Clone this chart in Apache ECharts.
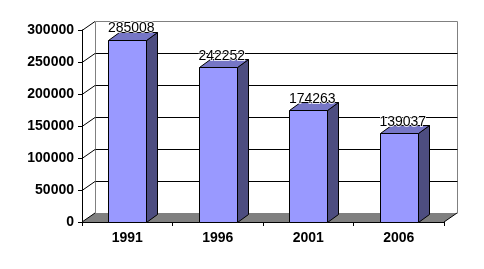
<!DOCTYPE html>
<html><head><meta charset="utf-8">
<script src="https://cdn.jsdelivr.net/npm/echarts@6/dist/echarts.min.js"></script>
<style>html,body{margin:0;padding:0;background:#fff}#c{width:484px;height:269px}</style>
</head><body><div id="c"></div>
<script>
var categories = ['1991', '1996', '2001', '2006'];
var values = [285008, 242252, 174263, 139037];
var yTicks = [0, 50000, 100000, 150000, 200000, 250000, 300000];

var WALL_DX = 13, WALL_DY = -9;
var BAR_DX = 11, BAR_DY = -8;
var FONT = '"Liberation Sans", Arial, sans-serif';

function r(v) { return Math.round(v) + 0.5; }

var chart = echarts.init(document.getElementById('c'), null, {renderer: 'canvas'});
chart.setOption({
  animation: false,
  backgroundColor: '#ffffff',
  grid: {left: 82, right: 40, top: 30, bottom: 47},
  xAxis: {
    type: 'category', data: categories,
    axisLine: {lineStyle: {color: '#000', width: 1}},
    axisTick: {show: true, length: 4, lineStyle: {color: '#000'}},
    axisLabel: {color: '#000', fontFamily: FONT, fontWeight: 'bold', fontSize: 14, margin: 9},
    splitLine: {show: false}
  },
  yAxis: {
    type: 'value', min: 0, max: 300000, interval: 50000,
    axisLine: {show: true, lineStyle: {color: '#000', width: 1}},
    axisTick: {show: true, length: 4, lineStyle: {color: '#000'}},
    axisLabel: {color: '#000', fontFamily: FONT, fontWeight: 'bold', fontSize: 14, margin: 8,
      formatter: function (v) { return String(v); }},
    splitLine: {show: false}
  },
  series: [
    {
      type: 'custom', z: 1, silent: true,
      data: yTicks.map(function (v) { return [0, v]; }),
      renderItem: function (params, api) {
        var cs = params.coordSys;
        var x0 = cs.x, x1 = cs.x + cs.width;
        var y = api.coord([0, api.value(1)])[1];
        var yTop = api.coord([0, yTicks[yTicks.length - 1]])[1];
        var yBot = api.coord([0, 0])[1];
        var children = [];
        if (params.dataIndex === 0) {
          children.push({type: 'polygon', z2: 1, shape: {points: [
            [x0, yBot], [x1, yBot], [x1 + WALL_DX, yBot + WALL_DY], [x0 + WALL_DX, yBot + WALL_DY]
          ]}, style: {fill: '#808080'}});
          children.push({type: 'polyline', z2: 2, shape: {points: [
            [r(x0 + WALL_DX), r(yBot + WALL_DY)], [r(x0 + WALL_DX), r(yTop + WALL_DY)],
            [r(x1 + WALL_DX), r(yTop + WALL_DY)], [r(x1 + WALL_DX), r(yBot + WALL_DY)]
          ]}, style: {stroke: '#808080', lineWidth: 1, fill: null}});
          children.push({type: 'line', z2: 3, shape: {x1: x1, y1: yBot, x2: x1 + WALL_DX, y2: yBot + WALL_DY},
            style: {stroke: '#000', lineWidth: 1}});
          children.push({type: 'line', z2: 3, shape: {x1: x0, y1: yBot, x2: x0 + WALL_DX, y2: yBot + WALL_DY},
            style: {stroke: '#000', lineWidth: 1}});
        } else {
          children.push({type: 'line', z2: 3, shape: {x1: x0, y1: r(y), x2: x0 + WALL_DX, y2: r(y + WALL_DY)},
            style: {stroke: '#000', lineWidth: 1}});
          if (params.dataIndex < yTicks.length - 1) {
            children.push({type: 'line', z2: 3, shape: {x1: r(x0 + WALL_DX), y1: r(y + WALL_DY), x2: r(x1 + WALL_DX), y2: r(y + WALL_DY)},
              style: {stroke: '#000', lineWidth: 1}});
          }
        }
        return {type: 'group', children: children};
      }
    },
    {
      type: 'custom', z: 5, silent: true,
      data: values.map(function (v, i) { return [i, v]; }),
      renderItem: function (params, api) {
        var i = api.value(0), v = api.value(1);
        var top = api.coord([i, v]);
        var bot = api.coord([i, 0]);
        var band = api.size([1, 0])[0];
        var w = band * 0.42;
        var xl = Math.round(top[0] - w / 2) + 0.5, xr = Math.round(top[0] + w / 2) + 0.5;
        var yt = Math.round(top[1]) + 0.5, yb = Math.round(bot[1]) + 0.5;
        var st = {stroke: '#000', lineWidth: 1, lineJoin: 'miter'};
        return {type: 'group', children: [
          {type: 'polygon', shape: {points: [[xr, yb], [xr + BAR_DX, yb + BAR_DY], [xr + BAR_DX, yt + BAR_DY], [xr, yt]]},
            style: Object.assign({fill: '#4d4d80'}, st)},
          {type: 'polygon', shape: {points: [[xl, yt], [xr, yt], [xr + BAR_DX, yt + BAR_DY], [xl + BAR_DX, yt + BAR_DY]]},
            style: Object.assign({fill: '#7676c6'}, st)},
          {type: 'rect', shape: {x: xl, y: yt, width: xr - xl, height: yb - yt},
            style: Object.assign({fill: '#9999ff'}, st)},
          {type: 'text', z2: 10, style: {text: String(v), x: top[0] + 4, y: top[1] - 11,
            align: 'center', verticalAlign: 'middle', fill: '#000', font: '14px ' + FONT,
            stroke: '#fff', lineWidth: 1.5}}
        ]};
      }
    }
  ]
});
</script></body></html>
